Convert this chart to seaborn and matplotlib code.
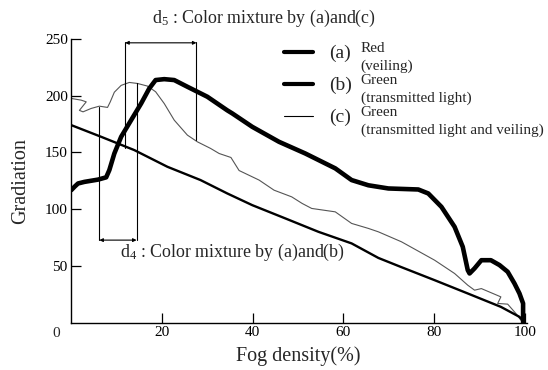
import numpy as np
import pandas as pd
import matplotlib
matplotlib.use("Agg")
import matplotlib.pyplot as plt
import seaborn as sns

# (a) Red (veiling) - thick curve
fog_a = [0, 0.8, 1.5, 2.9, 5.9, 7.7, 8.4, 9.5, 11.0, 13.2, 15.4, 17.2, 18.6, 20.5, 22.7,
         25.6, 30.0, 34.4, 35.5, 39.9, 45.8, 51.6, 58.2, 61.8, 65.5, 69.9, 76.5, 78.7,
         81.6, 84.5, 86.3, 87.4, 87.8, 88.9, 90.4, 92.5, 94.4, 96.2, 97.7, 98.8, 99.6, 99.6]
grad_a = [116.7, 120, 122.6, 124, 126, 128, 134.4, 149, 163.7, 178.4, 193, 206.3, 213.7,
          214.5, 213.7, 207.8, 199, 187, 184.3, 172.5, 159.3, 149, 135.9, 125.6, 121,
          118.2, 117.3, 113.8, 102, 84.4, 66.8, 46.3, 43.3, 47.8, 55, 55, 50.7, 44.8,
          34.5, 25.7, 16.9, 0]

# (b) Green (transmitted light) - straight-ish line
fog_b = [0, 6.6, 13.9, 21.2, 28.5, 34.4, 39.9, 47.2, 54.5, 61.8, 67.7, 72.7, 80.1,
         87.4, 94.7, 98.8, 100]
grad_b = [174, 163.7, 152, 137.3, 125.6, 113.8, 103.5, 91.8, 80, 69.8, 57, 49, 37.4,
          25.7, 13.9, 5.1, 0]

# (c) Green (transmitted light and veiling) - thin gray curve
fog_c = [0, 2.2, 3.3, 1.8, 2.6, 4.4, 6.2, 8.0, 8.6, 9.5, 11.0, 12.8, 14.6, 16.8, 18.6,
         20.5, 22.7, 25.6, 27.8, 30.7, 32.6, 35.2, 37.0, 41.4, 44.7, 48.6, 50.9, 53.0,
         58.2, 61.8, 65.5, 67.7, 72.8, 80.1, 84.5, 87.4, 88.9, 90.4, 94.7, 94.0, 96.2,
         98.0, 99.1, 100]
grad_c = [197.5, 196, 194.5, 187, 185.7, 188.7, 190.7, 189.6, 194.5, 203, 209, 211.6,
          210.7, 208.4, 203.4, 193, 178.4, 165.2, 159.3, 153.5, 149, 145.5, 134, 125.6,
          116.7, 110.8, 105, 100.6, 97.6, 87.4, 83, 80, 71.2, 55, 43.3, 33, 28.6, 30,
          22.7, 16.9, 16.3, 8.1, 2.2, 0]

# mixture ranges d4 / d5 (fog density bounds)
d4_range = [6.2, 14.4]
d4_tops = [190, 211]
d4_level = 72.7
d5_range = [11.9, 27.6]
d5_bottoms = [154, 160.5]
d5_level = 246.5

x_ticks = [20, 40, 60, 80, 100]
y_ticks = [50, 100, 150, 200, 250]

sns.set_style("ticks")
plt.rcParams['font.family'] = ['Liberation Serif', 'DejaVu Serif']
plt.rcParams['mathtext.fontset'] = 'custom'
plt.rcParams['mathtext.rm'] = 'Liberation Serif'
plt.rcParams['mathtext.it'] = 'Liberation Serif:italic'

fig = plt.figure(figsize=(5.48, 3.70), dpi=100)
ax = fig.add_axes([0.130, 0.128, 0.832, 0.767])

df_a = pd.DataFrame({"fog": fog_a, "grad": grad_a})
df_b = pd.DataFrame({"fog": fog_b, "grad": grad_b})
df_c = pd.DataFrame({"fog": fog_c, "grad": grad_c})

sns.lineplot(data=df_c, x="fog", y="grad", sort=False, estimator=None, ax=ax,
             color="#555555", linewidth=0.8)
sns.lineplot(data=df_b, x="fog", y="grad", sort=False, estimator=None, ax=ax,
             color="black", linewidth=1.7)
sns.lineplot(data=df_a, x="fog", y="grad", sort=False, estimator=None, ax=ax,
             color="black", linewidth=3.3, solid_joinstyle="round")

# d4 bracket
for xv, top in zip(d4_range, d4_tops):
    ax.plot([xv, xv], [d4_level, top], color="black", lw=0.8)
ax.annotate("", xy=(d4_range[0], d4_level), xytext=(d4_range[1], d4_level),
            arrowprops=dict(arrowstyle="<|-|>", color="black", lw=0.8,
                            mutation_scale=5, shrinkA=0, shrinkB=0))
ax.text(10.7, 61.5, r"d$_{\mathrm{4}}$ : Color mixture by (a)and(b)", fontsize=12.9,
        va="center", ha="left")

# d5 bracket
for xv, bot in zip(d5_range, d5_bottoms):
    ax.plot([xv, xv], [bot, d5_level + 0.8], color="black", lw=0.8, clip_on=False)
ax.annotate("", xy=(d5_range[0], d5_level), xytext=(d5_range[1], d5_level),
            arrowprops=dict(arrowstyle="<|-|>", color="black", lw=0.8,
                            mutation_scale=5, shrinkA=0, shrinkB=0),
            annotation_clip=False)
ax.text(17.7, 268.3, r"d$_{\mathrm{5}}$ : Color mixture by (a)and(c)", fontsize=12.9,
        va="center", ha="left", clip_on=False)

# hand-made legend
leg_x0, leg_x1 = 46.9, 53.2
leg_rows = [("(a)", "Red", "(veiling)", 3.0, 238.3),
            ("(b)", "Green", "(transmitted light)", 3.0, 210.0),
            ("(c)", "Green", "(transmitted light and veiling)", 0.8, 182.2)]
for tag, name, sub, lw, yv in leg_rows:
    ax.plot([leg_x0, leg_x1], [yv, yv], color="black", lw=lw, clip_on=False)
    ax.text(56.8, yv - 1, tag, fontsize=14, va="center", ha="left")
    ax.text(63.8, yv + 3, name, fontsize=11, va="center", ha="left")
    ax.text(63.8, yv - 12.5, sub, fontsize=11, va="center", ha="left")

ax.set_xlim(0, 100.5)
ax.set_ylim(0, 250)
ax.set_xticks(x_ticks)
ax.set_yticks(y_ticks)
ax.tick_params(direction="in", length=7, width=0.9, labelsize=11, pad=2.5,
               colors="black")
sns.despine(ax=ax)
for sp in ["left", "bottom"]:
    ax.spines[sp].set_linewidth(1.0)
    ax.spines[sp].set_color("black")

ax.set_xlabel("Fog density(%)", fontsize=14.5)
ax.set_ylabel("Gradiation", fontsize=14.5)
ax.xaxis.set_label_coords(0.497, -0.085)
ax.yaxis.set_label_coords(-0.09, 0.5)
ax.text(-0.032, -0.037, "0", transform=ax.transAxes, fontsize=11, ha="center",
        va="center")

fig.savefig("out.png", dpi=100, facecolor="white")
